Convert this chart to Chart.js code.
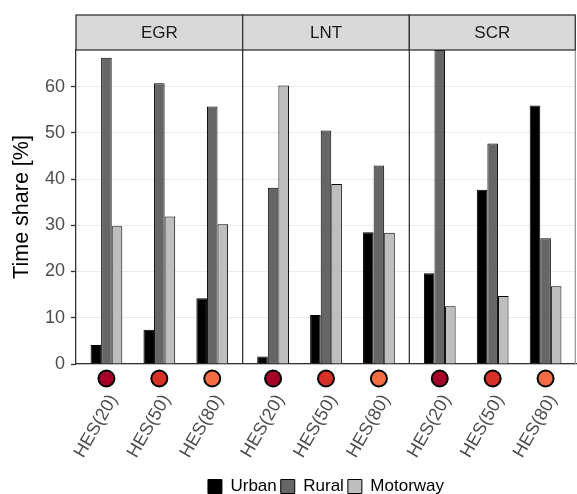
<!DOCTYPE html>
<html lang="en">
<head>
<meta charset="utf-8">
<title>Time share by facet</title>
<script src="https://cdn.jsdelivr.net/npm/chart.js"></script>
<style>
  html, body { margin: 0; padding: 0; background: #fff; }
</style>
</head>
<body>
<canvas id="shareChart" width="577" height="494"></canvas>
<script>
  var facets = ['EGR', 'LNT', 'SCR'];
  var categories = ['HES(20)', 'HES(50)', 'HES(80)'];
  var categoryColors = ['#A50026', '#D73027', '#F46D43'];
  var seriesNames = ['Urban', 'Rural', 'Motorway'];
  var seriesColors = ['#000000', '#666666', '#BEBEBE'];
  // values in order EGR(20,50,80), LNT(20,50,80), SCR(20,50,80)
  var urban    = [4.1, 7.4, 14.2,   1.6, 10.6, 28.5,  19.6, 37.7, 55.9];
  var rural    = [66.2, 60.7, 55.7, 38.1, 50.5, 42.9, 67.9, 47.7, 27.2];
  var motorway = [29.8, 31.9, 30.2, 60.2, 38.9, 28.4, 12.5, 14.7, 16.8];
  var yTicks = [0, 10, 20, 30, 40, 50, 60];

  var FONT = '"Liberation Sans", Arial, sans-serif';

  // facet layout on a linear x scale (1 unit = distance between categories)
  var PAD = 0.575;
  var SPAN = 3.15;
  var xPos = [], xLabel = [], xColor = [];
  facets.forEach(function (f, fi) {
    categories.forEach(function (c, ci) {
      xPos.push(fi * SPAN + PAD + ci);
      xLabel.push(c);
      xColor.push(categoryColors[ci]);
    });
  });

  function toPoints(arr) {
    return arr.map(function (v, i) { return { x: xPos[i], y: v }; });
  }

  var allSeries = [urban, rural, motorway];
  var datasets = seriesNames.map(function (name, i) {
    return {
      label: name,
      data: toPoints(allSeries[i]),
      backgroundColor: seriesColors[i],
      borderColor: '#000000',
      borderWidth: 1,
      categoryPercentage: 0.6,
      barPercentage: 1.0
    };
  });

  var facetPlugin = {
    id: 'facetPlugin',
    afterDatasetsDraw: function (chart) {
      var ctx = chart.ctx, a = chart.chartArea, x = chart.scales.x;
      ctx.save();
      ctx.lineWidth = 1.3;
      for (var f = 1; f <= facets.length; f++) {
        var px = x.getPixelForValue(f * SPAN);
        ctx.strokeStyle = '#333333';
        if (f === facets.length) { px -= 0.7; ctx.strokeStyle = '#999999'; }
        ctx.beginPath();
        ctx.moveTo(px, a.top);
        ctx.lineTo(px, a.bottom);
        ctx.stroke();
      }
      ctx.restore();
    },
    afterDraw: function (chart) {
      var ctx = chart.ctx, a = chart.chartArea, x = chart.scales.x;
      ctx.save();
      // strips
      var stripH = 35;
      facets.forEach(function (f, fi) {
        var x0 = x.getPixelForValue(fi * SPAN);
        var x1 = x.getPixelForValue((fi + 1) * SPAN);
        if (fi === facets.length - 1) x1 -= 0.7;
        ctx.fillStyle = '#D9D9D9';
        ctx.fillRect(x0, a.top - stripH, x1 - x0, stripH);
        ctx.strokeStyle = '#333333';
        ctx.lineWidth = 1.3;
        ctx.strokeRect(x0, a.top - stripH, x1 - x0, stripH);
        ctx.fillStyle = '#1A1A1A';
        ctx.font = '17px ' + FONT;
        ctx.textAlign = 'center';
        ctx.textBaseline = 'middle';
        ctx.fillText(f, (x0 + x1) / 2, a.top - stripH / 2 + 1);
      });
      // category markers under the axis
      xPos.forEach(function (v, i) {
        ctx.beginPath();
        ctx.arc(x.getPixelForValue(v), a.bottom + 14.5, 8, 0, Math.PI * 2);
        ctx.fillStyle = xColor[i];
        ctx.fill();
        ctx.lineWidth = 2;
        ctx.strokeStyle = '#000000';
        ctx.stroke();
      });
      ctx.restore();
    }
  };

  var chart = new Chart(document.getElementById('shareChart'), {
    type: 'bar',
    data: { datasets: datasets },
    plugins: [facetPlugin],
    options: {
      responsive: false,
      animation: false,
      layout: { padding: { top: 50, right: 1, left: 0, bottom: -11 } },
      plugins: {
        tooltip: { enabled: false },
        legend: {
          position: 'bottom',
          fullSize: false,
          labels: {
            boxWidth: 14,
            boxHeight: 14,
            padding: 4,
            color: '#000000',
            font: { size: 17, family: FONT }
          }
        }
      },
      scales: {
        x: {
          type: 'linear',
          offset: false,
          min: 0,
          max: facets.length * SPAN,
          grid: { display: false, drawTicks: false },
          border: { display: true, color: '#333333', width: 1.3 },
          afterBuildTicks: function (scale) {
            scale.ticks = xPos.map(function (v) { return { value: v }; });
          },
          afterFit: function (scale) {
            scale.height = 110;
            scale.paddingLeft = 0;
            scale.paddingRight = 0;
          },
          ticks: {
            autoSkip: false,
            minRotation: 60,
            maxRotation: 60,
            padding: 27,
            labelOffset: 7,
            color: '#4D4D4D',
            font: { size: 18, family: FONT },
            callback: function (value) {
              var i = xPos.indexOf(value);
              return i >= 0 ? xLabel[i] : '';
            }
          }
        },
        y: {
          min: 0,
          max: 67.9,
          afterFit: function (scale) { scale.width = 76; },
          afterBuildTicks: function (scale) {
            scale.ticks = yTicks.map(function (v) { return { value: v }; });
          },
          grid: { color: '#EBEBEB', lineWidth: 1, tickColor: '#333333', tickLength: 5, tickWidth: 1.3 },
          border: { display: true, color: '#333333', width: 1.3 },
          ticks: {
            padding: 6,
            color: '#4D4D4D',
            font: { size: 18, family: FONT }
          },
          title: {
            display: true,
            text: 'Time share [%]',
            color: '#000000',
            padding: { top: 9, bottom: 0 },
            font: { size: 21.5, family: FONT }
          }
        }
      }
    }
  });
</script>
</body>
</html>
